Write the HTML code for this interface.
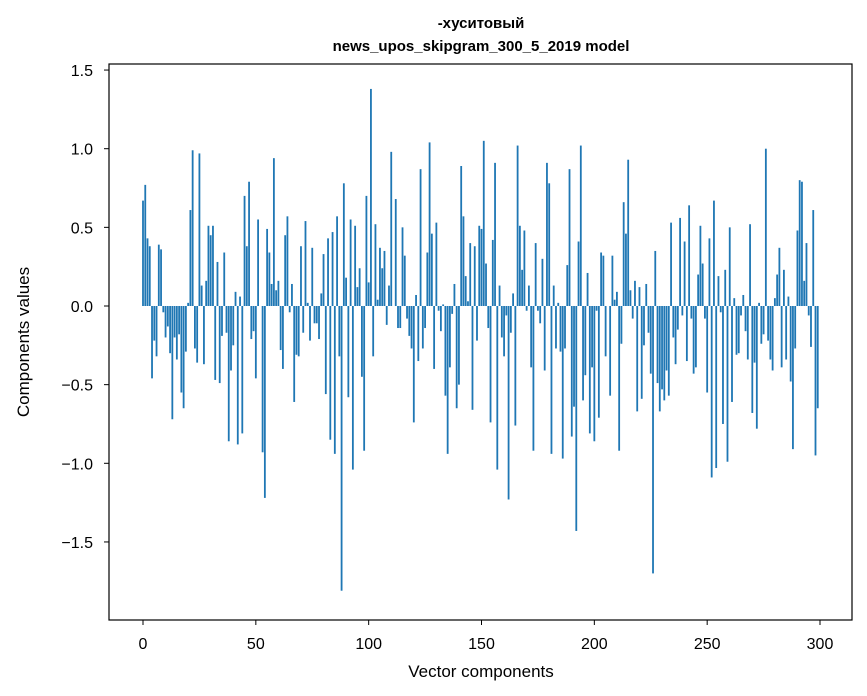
<!DOCTYPE html>
<html><head><meta charset="utf-8"><style>
html,body{margin:0;padding:0;background:#fff;}
svg{display:block;font-family:"Liberation Sans","DejaVu Sans",sans-serif;}
</style></head><body>
<svg id="chart" width="867" height="696" viewBox="0 0 867 696" xmlns="http://www.w3.org/2000/svg">
<rect x="0" y="0" width="867" height="696" fill="#fff"/>
<text x="481" y="28" text-anchor="middle" font-size="15" font-weight="bold">-хуситовый</text>
<text x="481" y="51" text-anchor="middle" font-size="15" font-weight="bold">news_upos_skipgram_300_5_2019 model</text>
<g id="bars"></g>
<g id="axes"></g>
<rect x="109" y="64" width="743" height="556" fill="none" stroke="#000" stroke-width="1.2"/>
<text x="481" y="677" text-anchor="middle" font-size="17">Vector components</text>
<text transform="translate(29,342) rotate(-90)" text-anchor="middle" font-size="17">Components values</text>
</svg>
<script>
const values = [
0.67,0.77,0.43,0.38,-0.46,-0.22,-0.32,0.39,0.36,-0.04,-0.20,-0.13,-0.30,-0.72,-0.20,-0.34,-0.18,-0.55,-0.65,-0.29,
0.02,0.61,0.99,-0.27,-0.36,0.97,0.13,-0.37,0.16,0.51,0.45,0.51,-0.47,0.28,-0.49,-0.19,0.34,-0.17,-0.86,-0.41,
-0.25,0.09,-0.88,0.06,-0.81,0.70,0.38,0.79,
-0.21,-0.16,-0.46,0.55,0.00,-0.93,-1.22,0.49,0.34,0.14,0.94,0.10,0.16,-0.28,-0.40,0.45,0.57,-0.04,0.14,-0.61,
-0.31,-0.32,0.38,-0.17,0.54,0.02,-0.22,0.37,-0.11,-0.11,-0.21,0.08,0.33,-0.56,0.43,-0.85,0.47,-0.94,0.57,-0.32,
-1.81,0.78,0.18,-0.58,0.55,-1.04,0.51,0.12,0.24,-0.45,
-0.92,0.70,0.15,1.38,-0.32,0.52,0.04,0.37,0.24,0.35,-0.12,0.13,0.98,0.00,0.68,-0.14,-0.14,0.50,0.32,-0.08,
-0.19,-0.27,-0.74,0.07,-0.35,0.87,-0.27,-0.14,0.34,1.04,0.46,-0.40,0.53,-0.03,-0.16,0.01,-0.57,-0.94,-0.39,-0.05,
0.14,-0.65,-0.50,0.89,0.57,0.19,0.03,0.40,-0.66,0.38,-0.22,0.51,0.49,
1.05,0.27,-0.14,-0.74,0.42,0.91,-1.04,0.13,-0.20,-0.32,-0.06,-1.23,-0.17,0.08,-0.76,1.02,0.51,0.23,0.48,-0.03,
0.13,-0.39,-0.92,0.40,-0.03,-0.11,0.30,-0.41,0.91,0.78,-0.94,0.13,-0.27,0.02,-0.29,-0.97,-0.27,0.26,0.87,-0.83,
-0.64,-1.43,0.41,1.02,-0.60,-0.44,0.21,-0.81,-0.39,-0.86,
-0.03,-0.71,0.34,0.32,-0.32,0.00,-0.57,0.32,0.04,0.09,-0.92,-0.24,0.66,0.46,0.93,0.10,-0.08,0.16,-0.67,0.12,
-0.59,-0.25,0.14,-0.17,-0.43,-1.70,0.35,-0.49,-0.67,-0.53,-0.60,-0.41,-0.57,0.53,-0.20,-0.37,-0.15,0.56,-0.06,0.41,
-0.35,0.64,-0.08,-0.43,-0.39,0.20,0.51,0.27,-0.08,-0.55,
0.43,-1.09,0.67,-1.03,0.19,-0.04,-0.75,0.23,-0.99,0.50,-0.61,0.05,-0.31,-0.30,-0.06,0.07,-0.16,-0.34,0.52,-0.68,
-0.36,-0.78,0.02,-0.24,-0.18,1.00,-0.22,-0.34,-0.41,0.05,0.20,0.37,-0.39,0.23,-0.34,0.06,-0.48,-0.91,-0.27,0.48,
0.80,0.79,0.16,0.40,-0.06,-0.26,0.61,-0.95,-0.65
];
const xTicks = [0,50,100,150,200,250,300];
const yTicks = [1.5,1.0,0.5,0.0,-0.5,-1.0,-1.5];
const yTickLabels = ["1.5","1.0","0.5","0.0","\u22120.5","\u22121.0","\u22121.5"];

const NS = "http://www.w3.org/2000/svg";
function xs(i){ return 143 + i*2.2567; }
function ys(v){ return 306 - v*157.3; }

const bars = document.getElementById('bars');
values.forEach(function(v,i){
  const r = document.createElementNS(NS,'rect');
  const x0 = xs(i-0.4), x1 = xs(i+0.4);
  const y0 = Math.min(ys(v), ys(0)), h = Math.abs(ys(v)-ys(0));
  r.setAttribute('x', x0); r.setAttribute('width', x1-x0);
  r.setAttribute('y', y0); r.setAttribute('height', h);
  r.setAttribute('fill', '#1f77b4');
  
  
  bars.appendChild(r);
});

const axes = document.getElementById('axes');
xTicks.forEach(function(t){
  const l = document.createElementNS(NS,'line');
  l.setAttribute('x1', xs(t)); l.setAttribute('x2', xs(t));
  l.setAttribute('y1', 620); l.setAttribute('y2', 625);
  l.setAttribute('stroke', '#000'); l.setAttribute('stroke-width', '1');
  
  
  axes.appendChild(l);
  const tx = document.createElementNS(NS,'text');
  tx.setAttribute('x', xs(t)); tx.setAttribute('y', 649);
  tx.setAttribute('text-anchor', 'middle'); tx.setAttribute('font-size', '16');
  tx.textContent = String(t);
  
  
  axes.appendChild(tx);
});
yTicks.forEach(function(t,k){
  const l = document.createElementNS(NS,'line');
  l.setAttribute('x1', 104); l.setAttribute('x2', 109);
  l.setAttribute('y1', ys(t)); l.setAttribute('y2', ys(t));
  l.setAttribute('stroke', '#000'); l.setAttribute('stroke-width', '1');
  
  
  axes.appendChild(l);
  const tx = document.createElementNS(NS,'text');
  tx.setAttribute('x', 93); tx.setAttribute('y', ys(t)+6);
  tx.setAttribute('text-anchor', 'end'); tx.setAttribute('font-size', '16');
  tx.textContent = yTickLabels[k];
  
  
  axes.appendChild(tx);
});
</script>
</body></html>
